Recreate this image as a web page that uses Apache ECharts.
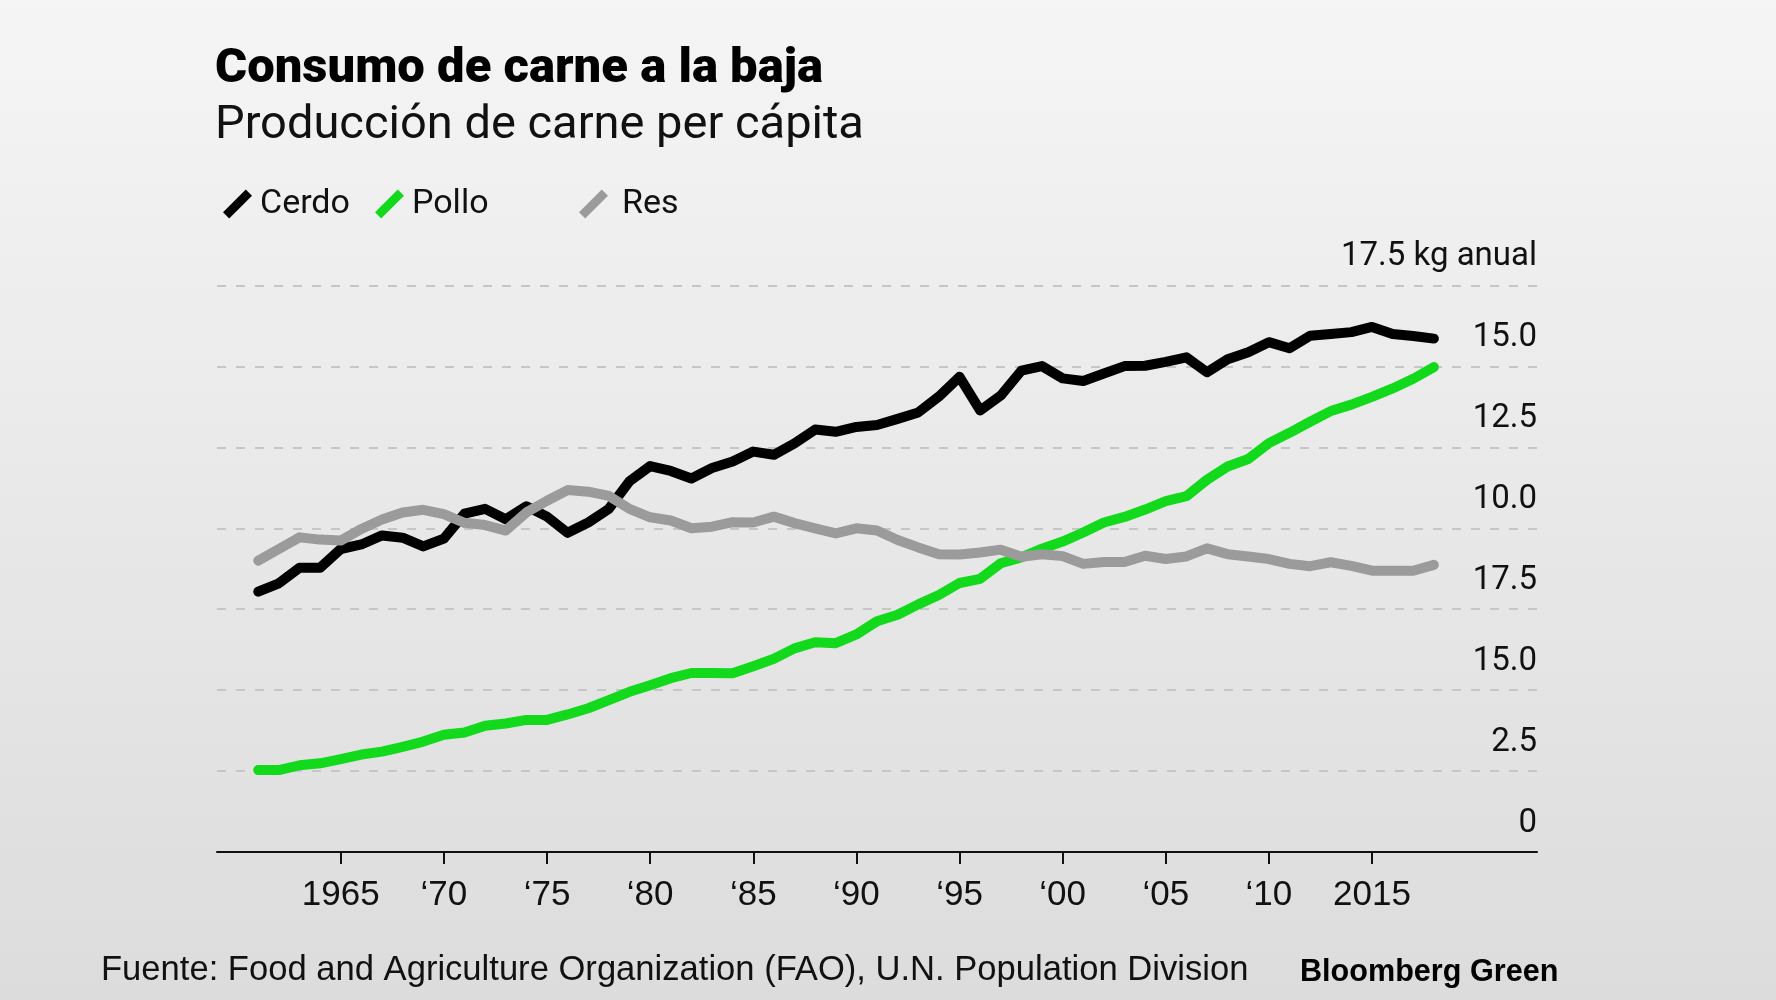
<!DOCTYPE html>
<html>
<head>
<meta charset="utf-8">
<script src="https://cdn.jsdelivr.net/npm/echarts@6/dist/echarts.min.js"></script>
<style>
html,body{margin:0;padding:0;width:1776px;height:1000px;overflow:hidden;}
#chart{width:1776px;height:1000px;}
</style>
</head>
<body>
<div id="chart"></div>
<script>
const years = [1961,1962,1963,1964,1965,1966,1967,1968,1969,1970,1971,1972,1973,1974,1975,1976,1977,1978,1979,1980,1981,1982,1983,1984,1985,1986,1987,1988,1989,1990,1991,1992,1993,1994,1995,1996,1997,1998,1999,2000,2001,2002,2003,2004,2005,2006,2007,2008,2009,2010,2011,2012,2013,2014,2015,2016,2017,2018];
const cerdo = [8.04,8.30,8.78,8.78,9.36,9.50,9.78,9.71,9.44,9.68,10.45,10.60,10.28,10.68,10.36,9.86,10.18,10.60,11.45,11.92,11.77,11.54,11.86,12.06,12.37,12.27,12.62,13.05,12.98,13.13,13.19,13.38,13.58,14.07,14.68,13.64,14.10,14.87,15.01,14.63,14.55,14.78,15.01,15.02,15.14,15.28,14.82,15.22,15.44,15.75,15.56,15.95,16.00,16.06,16.22,16.00,15.94,15.86];
const pollo = [2.53,2.53,2.68,2.74,2.87,3.01,3.10,3.25,3.41,3.62,3.69,3.90,3.97,4.08,4.08,4.25,4.44,4.69,4.95,5.15,5.37,5.53,5.53,5.52,5.74,5.97,6.29,6.48,6.45,6.72,7.13,7.33,7.65,7.94,8.31,8.44,8.92,9.10,9.37,9.59,9.87,10.18,10.35,10.58,10.84,10.99,11.50,11.91,12.14,12.63,12.95,13.29,13.62,13.82,14.06,14.32,14.62,14.98];
const res = [9.00,9.36,9.72,9.65,9.62,9.98,10.27,10.49,10.57,10.44,10.17,10.10,9.93,10.49,10.85,11.18,11.13,11.00,10.60,10.34,10.24,10.00,10.05,10.19,10.18,10.36,10.16,10.00,9.84,10.00,9.93,9.64,9.41,9.20,9.19,9.25,9.34,9.12,9.20,9.14,8.90,8.96,8.96,9.15,9.05,9.13,9.38,9.20,9.13,9.05,8.90,8.83,8.95,8.84,8.69,8.69,8.69,8.87];

const seriesNames = ['Cerdo','Pollo','Res'];
const xTickValues = [1965,1970,1975,1980,1985,1990,1995,2000,2005,2010,2015];
const xTickLabels = ['1965','\u201870','\u201875','\u201880','\u201885','\u201890','\u201895','\u201800','\u201805','\u201810','2015'];
const yTickValues = [0,2.5,5,7.5,10,12.5,15,17.5];
const yTickLabels = ['0','2.5','15.0','17.5','10.0','12.5','15.0','17.5 kg anual'];

const titleText = 'Consumo de carne a la baja';
const subtitleText = 'Producción de carne per cápita';
const sourceText = 'Fuente: Food and Agriculture Organization (FAO), U.N. Population Division';
const brandText = 'Bloomberg Green';

const colors = {Cerdo:'#000000', Pollo:'#13d91c', Res:'#9b9b9b'};
const iconPath = 'path://M0,22 L22,0 L28,6 L6,28 Z';
const narrow = "'Liberation Sans Narrow','Liberation Sans',sans-serif";

function pairs(vals){ return years.map((y,i)=>[y, vals[i]]); }

const chart = echarts.init(document.getElementById('chart'), null, {renderer:'canvas'});

function legendAt(name, left, padLeft){
  return {
    show:true, left:left, top:182, orient:'horizontal',
    selectedMode:false, itemWidth:29, itemHeight:29, itemGap:0,
    data:[{name:name, icon:iconPath}],
    textStyle:{fontFamily:'Roboto', fontSize:34, color:'#111', padding:[0,0,0,padLeft]}
  };
}

function lineSeries(name, vals, z){
  return {name:name,type:'line',data:pairs(vals),showSymbol:false,symbol:'none',z:z,
    itemStyle:{color:colors[name]},lineStyle:{color:colors[name],width:10,cap:'round',join:'round'}};
}

const option = {
  backgroundColor:{type:'linear',x:0,y:0,x2:0,y2:1,colorStops:[{offset:0,color:'#f5f5f5'},{offset:1,color:'#dcdcdc'}]},
  animation:false,
  title:[
    {text:titleText,left:210,top:39,textStyle:{fontFamily:'Roboto',fontWeight:900,fontSize:49,lineHeight:52,color:'#000'}},
    {text:subtitleText,left:210,top:96,textStyle:{fontFamily:'Roboto',fontWeight:'normal',fontSize:47,lineHeight:50,color:'#111'}},
    {text:sourceText,left:96,top:947,textStyle:{fontFamily:narrow,fontWeight:'normal',fontSize:34.6,lineHeight:36,color:'#111'}},
    {text:brandText,left:1295,top:951,textStyle:{fontFamily:narrow,fontWeight:'bold',fontSize:30.6,lineHeight:34,color:'#000'}}
  ],
  legend:[legendAt('Cerdo',218,3), legendAt('Pollo',370,3), legendAt('Res',574,9)],
  grid:{left:217,right:239,top:285.5,bottom:148},
  xAxis:{
    type:'value', min:1959, max:2023,
    axisLine:{show:true,lineStyle:{color:'#111',width:2}},
    axisTick:{show:true,customValues:xTickValues,length:12,lineStyle:{color:'#111',width:2}},
    axisLabel:{show:true,customValues:xTickValues,margin:26,fontFamily:narrow,fontSize:35,color:'#111',
      formatter:function(v){const i=xTickValues.indexOf(v);return i>=0?xTickLabels[i]:'';}},
    splitLine:{show:false}
  },
  yAxis:{
    type:'value', position:'right', min:0, max:17.5, interval:2.5,
    axisLine:{show:false}, axisTick:{show:false},
    axisLabel:{show:true,inside:true,margin:0,align:'right',verticalAlign:'bottom',lineHeight:57,
      fontFamily:'Roboto',fontSize:33,color:'#111',
      formatter:function(v){const i=yTickValues.indexOf(v);return i>=0?yTickLabels[i]:'';}},
    splitLine:{show:true,lineStyle:{color:'#c6c6c6',width:2,type:[9,10]}}
  },
  series:[
    lineSeries('Cerdo', cerdo, 2),
    lineSeries('Pollo', pollo, 3),
    lineSeries('Res', res, 4)
  ]
};
chart.setOption(option);
</script>
</body>
</html>
